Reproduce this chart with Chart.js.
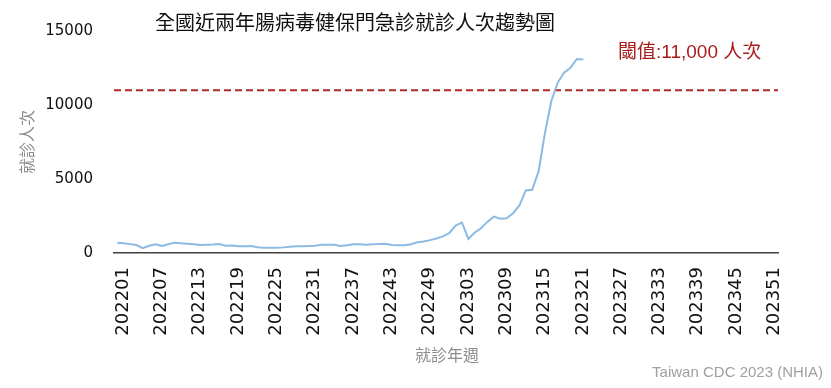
<!DOCTYPE html>
<html>
<head>
<meta charset="utf-8">
<script src="https://cdn.jsdelivr.net/npm/chart.js@4.4.0/dist/chart.umd.min.js"></script>
<style>
  html, body { margin: 0; padding: 0; background: #fff; }
</style>
</head>
<body>
<canvas id="chart" width="831" height="388"></canvas>
<script>
// Week categories 202201 .. 202352
const years = ['2022', '2023'];
const weeks = [];
years.forEach(y => {
    for (let w = 1; w <= 52; w++) weeks.push(y + String(w).padStart(2, '0'));
});

// Weekly EV outpatient/ER visits (202201 .. 202322)
const visits = [
    700, 660, 600, 540, 320, 490, 590, 470, 590, 700,
    660, 630, 590, 540, 560, 580, 610, 490, 500, 450,
    460, 470, 390, 360, 350, 360, 380, 420, 450, 450,
    480, 490, 560, 560, 560, 470, 520, 590, 590, 560,
    590, 600, 630, 540, 520, 520, 590, 720, 780, 870,
    980, 1120, 1340, 1850, 2060, 950, 1380, 1670, 2120, 2460,
    2310, 2350, 2690, 3210, 4230, 4270, 5510, 8120, 10270, 11510,
    12190, 12520, 13110, 13070
];

const yTicks = [0, 5000, 10000, 15000];
const threshold = 11000;
const thresholdLabel = '閾值:11,000 人次';
const chartTitle = '全國近兩年腸病毒健保門急診就診人次趨勢圖';
const yTitle = '就診人次';
const xTitle = '就診年週';
const source = 'Taiwan CDC 2023 (NHIA)';

const cjk = '"Noto Sans CJK TC"';

// threshold line + all free texts
const annotations = {
    id: 'annotations',
    beforeDatasetsDraw(chart) {
        const { ctx, chartArea, scales } = chart;
        const y = scales.y.getPixelForValue(threshold);
        ctx.save();
        ctx.strokeStyle = '#b02a2a';
        ctx.lineWidth = 2;
        ctx.setLineDash([7, 4]);
        ctx.beginPath();
        ctx.moveTo(chartArea.left, y);
        ctx.lineTo(chartArea.right, y);
        ctx.stroke();
        ctx.restore();
    },
    afterDraw(chart) {
        const { ctx, scales } = chart;
        ctx.save();
        ctx.textBaseline = 'middle';

        // title
        ctx.fillStyle = '#111';
        ctx.font = '20px ' + cjk;
        ctx.textAlign = 'left';
        ctx.fillText(chartTitle, 155, 22);

        // threshold label
        ctx.fillStyle = '#a81c1c';
        ctx.font = '19px "Liberation Sans", ' + cjk;
        ctx.fillText(thresholdLabel, 618, scales.y.getPixelForValue(threshold) - 37);

        // axis titles
        ctx.fillStyle = '#8c8c8c';
        ctx.font = '16px ' + cjk;
        ctx.textAlign = 'center';
        ctx.fillText(xTitle, 447, 355);
        ctx.save();
        ctx.translate(27, 142);
        ctx.rotate(-Math.PI / 2);
        ctx.fillText(yTitle, 0, 0);
        ctx.restore();

        // source
        ctx.fillStyle = '#a0a0a0';
        ctx.font = '15px "Liberation Sans"';
        ctx.textAlign = 'right';
        ctx.fillText(source, 823, 373);
        ctx.restore();
    }
};

new Chart(document.getElementById('chart'), {
    type: 'line',
    data: {
        labels: weeks,
        datasets: [{
            data: visits,
            borderColor: '#8dbae3',
            borderWidth: 2,
            pointRadius: 0,
            tension: 0,
            fill: false
        }]
    },
    options: {
        responsive: false,
        animation: false,
        devicePixelRatio: 1,
        layout: { padding: { top: 31, right: 53, left: 0, bottom: 0 } },
        plugins: {
            legend: { display: false },
            tooltip: { enabled: false }
        },
        scales: {
            x: {
                offset: true,
                grid: { display: false, drawTicks: false },
                border: { color: '#404040', width: 1.5 },
                ticks: {
                    autoSkip: false,
                    minRotation: 90,
                    maxRotation: 90,
                    padding: 14,
                    labelOffset: 6,
                    color: '#111',
                    font: { family: 'DejaVu Sans', size: 18 },
                    callback: (v, i) => (i % 6 === 0 ? weeks[i] : '')
                },
                afterFit: s => { s.height = 135; }
            },
            y: {
                min: 0,
                max: 15000,
                afterBuildTicks: s => { s.ticks = yTicks.map(v => ({ value: v })); },
                grid: { display: false, drawTicks: false },
                border: { display: false },
                ticks: {
                    padding: 21,
                    color: '#111',
                    font: { family: 'DejaVu Sans', size: 15 },
                    callback: v => String(v)
                },
                afterFit: s => { s.width = 114; }
            }
        }
    },
    plugins: [annotations]
});
</script>
</body>
</html>
